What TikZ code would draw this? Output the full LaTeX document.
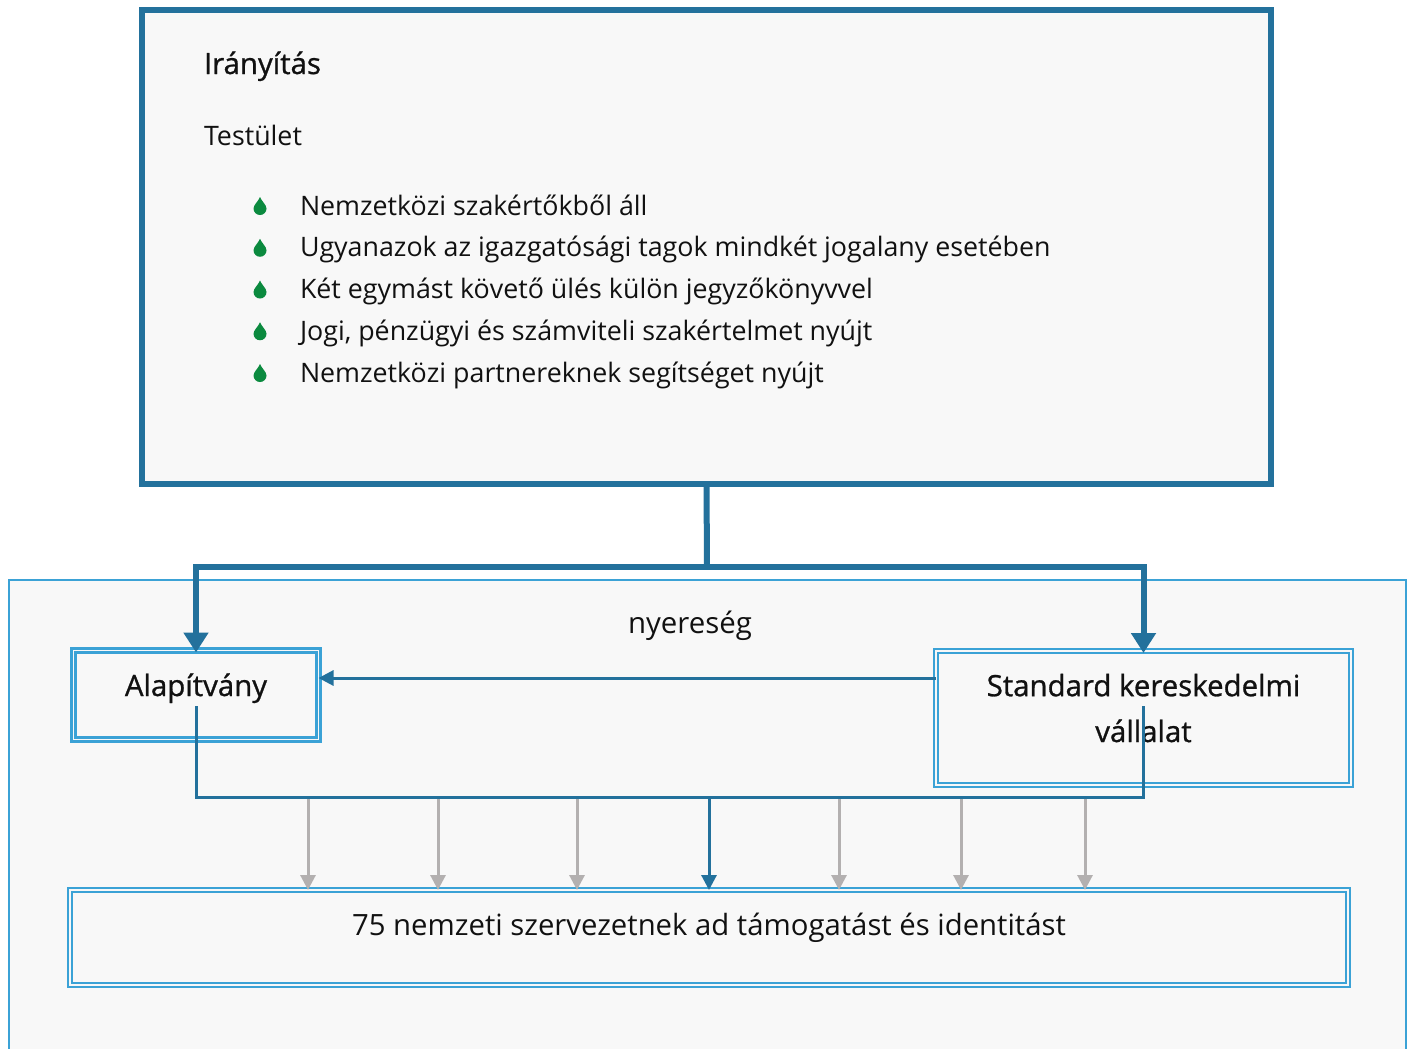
\documentclass[tikz,border=0pt]{standalone}
\usepackage{fontspec}
\setmainfont{Open Sans}
\newfontfamily\semib{Open Sans}[FakeBold=0.9]
\usetikzlibrary{arrows.meta,calc}
\definecolor{dblue}{HTML}{23719C}
\definecolor{lblue}{HTML}{3BA2D6}
\definecolor{gline}{HTML}{B3B0B0}
\definecolor{dgreen}{HTML}{0B8A3F}
\definecolor{bgf}{HTML}{F8F8F8}
\definecolor{txt}{HTML}{111111}
\begin{document}
\begin{tikzpicture}[x=1bp,y=-1bp,
  every node/.style={inner sep=0pt,outer sep=0pt,text=txt},
  bodyfont/.style={font=\fontsize{26.9}{32}\selectfont},
  bigfont/.style={font=\semib\fontsize{29.5}{46}\selectfont},
  dbox/.style={draw=lblue,line width=2.2bp,double=bgf,double distance=1.8bp,fill=bgf,rectangle},
  thick conn/.style={draw=dblue,line width=6bp},
  mid conn/.style={draw=dblue,line width=3bp},
  grey conn/.style={draw=gline,line width=3bp,-{Triangle[length=15bp,width=15bp]}},
  drop/.style={fill=dgreen,draw=none}
]
\useasboundingbox (0,0) rectangle (1413,1048);
\fill[white] (0,0) rectangle (1413,1048);
% containers
\node[draw=lblue,line width=2bp,fill=bgf,minimum width=1397bp,minimum height=480bp,anchor=north west] (cont) at (9,580) {};
\node[draw=dblue,line width=6bp,fill=bgf,minimum width=1129bp,minimum height=474bp] (top) at (706.5,247) {};
% top texts
\node[anchor=base west,font=\semib\fontsize{29.5}{34}\selectfont] (title) at (204,74) {Irányítás};
\node[anchor=base west,bodyfont] (test) at (204,145) {Testület};
\foreach \i/\t in {1/Nemzetközi szakértőkből áll,
  2/Ugyanazok az igazgatósági tagok mindkét jogalany esetében,
  3/Két egymást követő ülés külön jegyzőkönyvvel,
  4/{Jogi, pénzügyi és számviteli szakértelmet nyújt},
  5/Nemzetközi partnereknek segítséget nyújt}{
  \pgfmathsetmacro{\yb}{215+41.75*(\i-1)}
  \node[anchor=base west,bodyfont] (b\i) at (300,\yb) {\t};
  \fill[drop] ($(260,\yb)+(0,-18)$) .. controls ($(260,\yb)+(1.5,-14)$) and ($(260,\yb)+(6.5,-10)$) .. ($(260,\yb)+(6.5,-6.5)$)
     arc[start angle=0,end angle=180,radius=6.5]
     .. controls ($(260,\yb)+(-6.5,-10)$) and ($(260,\yb)+(-1.5,-14)$) .. cycle;
}
% boxes
\node[dbox,minimum width=245bp,minimum height=89bp] (alap) at (196,695) {};
\node[bigfont,anchor=base] (alapt) at (196,696) {Alapítvány};
\node[dbox,minimum width=415bp,minimum height=134bp] (std) at (1143.5,718) {};
\node[bigfont,anchor=base,align=center] (stdt) at (1143.5,742) {Standard kereskedelmi\\vállalat};
\node[dbox,minimum width=1278bp,minimum height=95bp] (bot) at (709,937.5) {};
\node[font=\fontsize{29.4}{34}\selectfont,anchor=base] (bott) at (709,935) {75 nemzeti szervezetnek ad támogatást és identitást};
\node[font=\fontsize{29.5}{34}\selectfont,anchor=base] (ny) at (690,633) {nyereség};
% thick connectors
\coordinate (j) at (707,567);
\draw[thick conn] (top.south) -- (j);
\draw[thick conn,-{Triangle[length=20bp,width=24bp]},shorten >=-2bp] (j) -| (alap.north);
\draw[thick conn,-{Triangle[length=20bp,width=24bp]},shorten >=-2bp] (j) -| (std.north);
% profit arrow
\draw[mid conn,-{Triangle[length=15bp,width=15bp]}] (std.west |- 0,678) -- (alap.east |- 0,678);
% bus
\coordinate (a1) at (196,706);
\coordinate (busL) at (196,797);
\coordinate (busR) at (1143,797);
\coordinate (s1) at (1143,706);
\foreach \k/\x in {1/308,2/438,3/577,4/839,5/961,6/1085}{
  \coordinate (g\k) at (\x,798);
  \draw[grey conn] (g\k) -- (bot.north -| g\k);
}
\coordinate (m) at (709,797);
\draw[mid conn,-{Triangle[length=15bp,width=15bp]}] (m) -- (bot.north -| m);
\draw[mid conn] (a1) -- (busL) -- (busR) -- (s1);
\end{tikzpicture}
\end{document}
